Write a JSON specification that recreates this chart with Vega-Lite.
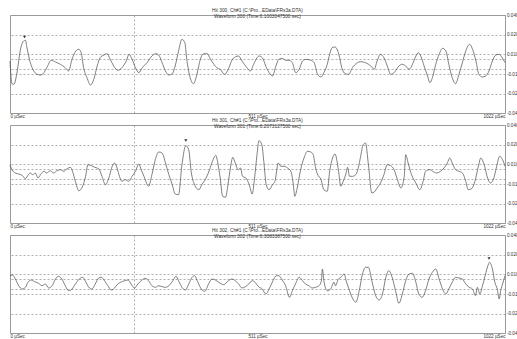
{
  "$schema": "https://vega.github.io/schema/vega-lite/v6.json",
  "padding": {"left": 8, "top": 7, "right": 0, "bottom": 0},
  "background": "white",
  "bounds": "flush",
  "spacing": 12,
  "config": {
    "font": "Liberation Sans",
    "view": {"stroke": "#9a9a9a", "strokeWidth": 1},
    "title": {"fontSize": 4.8, "subtitleFontSize": 4.8, "fontWeight": "normal", "font": "Liberation Sans", "subtitleFont": "Liberation Sans", "color": "#333", "subtitleColor": "#333", "anchor": "middle", "offset": -7, "subtitlePadding": 1.5},
    "axis": {"labelFont": "Liberation Sans", "labelFontSize": 4.6, "labelColor": "#333", "ticks": false, "title": null, "labelOverlap": false, "gridColor": "#8c8c8c", "gridDash": [2, 2], "gridWidth": 0.7}
  },
  "datasets": {
    "peaks": [{"panel": 300, "t": 30, "v": 2.7}, {"panel": 301, "t": 363, "v": 3.35}, {"panel": 302, "t": 989, "v": 2.55}],
    "wave": [
      {"panel":300,"t":0,"v":0.3},{"panel":300,"t":4,"v":-1.97},{"panel":300,"t":8,"v":-2.03},{"panel":300,"t":15,"v":-0.7},{"panel":300,"t":21,"v":1.3},{"panel":300,"t":28,"v":2.3},{"panel":300,"t":32,"v":2.37},{"panel":300,"t":35,"v":1.63},{"panel":300,"t":42,"v":0.13},{"panel":300,"t":49,"v":-0.7},{"panel":300,"t":56,"v":-1.03},{"panel":300,"t":63,"v":-1.1},{"panel":300,"t":70,"v":-0.87},{"panel":300,"t":76,"v":-0.37},{"panel":300,"t":85,"v":0.37},{"panel":300,"t":94,"v":0.2},{"panel":300,"t":104,"v":-0.03},{"panel":300,"t":114,"v":-0.37},{"panel":300,"t":121,"v":-0.7},{"panel":300,"t":128,"v":0.47},{"panel":300,"t":136,"v":1.3},{"panel":300,"t":142,"v":1.47},{"panel":300,"t":147,"v":1.13},{"panel":300,"t":152,"v":-0.37},{"panel":300,"t":159,"v":-1.37},{"panel":300,"t":166,"v":-2.1},{"panel":300,"t":173,"v":-1.53},{"panel":300,"t":180,"v":-0.2},{"panel":300,"t":186,"v":0.63},{"panel":300,"t":194,"v":0.9},{"panel":300,"t":200,"v":1.03},{"panel":300,"t":207,"v":0.47},{"panel":300,"t":214,"v":-0.2},{"panel":300,"t":223,"v":-0.63},{"panel":300,"t":231,"v":-0.37},{"panel":300,"t":240,"v":0.3},{"panel":300,"t":246,"v":0.97},{"panel":300,"t":252,"v":0.47},{"panel":300,"t":259,"v":-0.37},{"panel":300,"t":266,"v":-0.87},{"panel":300,"t":273,"v":-0.37},{"panel":300,"t":283,"v":0.13},{"panel":300,"t":293,"v":0.8},{"panel":300,"t":301,"v":1.03},{"panel":300,"t":307,"v":0.9},{"panel":300,"t":314,"v":0.13},{"panel":300,"t":321,"v":-0.7},{"panel":300,"t":328,"v":-1.1},{"panel":300,"t":335,"v":-0.97},{"panel":300,"t":341,"v":-0.2},{"panel":300,"t":348,"v":1.3},{"panel":300,"t":355,"v":2.47},{"panel":300,"t":361,"v":2.13},{"panel":300,"t":365,"v":0.47},{"panel":300,"t":372,"v":-1.37},{"panel":300,"t":379,"v":-1.97},{"panel":300,"t":386,"v":-1.03},{"panel":300,"t":393,"v":0.47},{"panel":300,"t":400,"v":1.03},{"panel":300,"t":407,"v":1.03},{"panel":300,"t":414,"v":0.47},{"panel":300,"t":421,"v":-0.03},{"panel":300,"t":427,"v":-0.37},{"panel":300,"t":434,"v":-0.53},{"panel":300,"t":443,"v":-1.03},{"panel":300,"t":452,"v":-0.37},{"panel":300,"t":458,"v":0.37},{"panel":300,"t":465,"v":0.7},{"panel":300,"t":472,"v":0.8},{"panel":300,"t":479,"v":0.3},{"panel":300,"t":489,"v":-0.37},{"panel":300,"t":496,"v":-0.7},{"panel":300,"t":503,"v":-0.03},{"panel":300,"t":510,"v":0.63},{"panel":300,"t":514,"v":0.8},{"panel":300,"t":521,"v":0.63},{"panel":300,"t":528,"v":-0.2},{"panel":300,"t":535,"v":-0.87},{"panel":300,"t":542,"v":-1.2},{"panel":300,"t":549,"v":-0.2},{"panel":300,"t":555,"v":0.47},{"panel":300,"t":562,"v":0.57},{"panel":300,"t":569,"v":0.37},{"panel":300,"t":576,"v":0.37},{"panel":300,"t":583,"v":0.13},{"panel":300,"t":590,"v":-0.87},{"panel":300,"t":597,"v":-0.53},{"panel":300,"t":604,"v":0.3},{"panel":300,"t":611,"v":0.47},{"panel":300,"t":621,"v":0.37},{"panel":300,"t":628,"v":0.13},{"panel":300,"t":635,"v":-1.03},{"panel":300,"t":642,"v":-1.3},{"panel":300,"t":648,"v":-0.87},{"panel":300,"t":655,"v":-0.03},{"panel":300,"t":660,"v":0.97},{"panel":300,"t":665,"v":1.63},{"panel":300,"t":671,"v":1.7},{"panel":300,"t":679,"v":0.97},{"panel":300,"t":685,"v":-0.37},{"panel":300,"t":692,"v":-0.97},{"panel":300,"t":699,"v":-1.03},{"panel":300,"t":707,"v":-0.37},{"panel":300,"t":717,"v":0.13},{"panel":300,"t":724,"v":0.23},{"panel":300,"t":734,"v":0.13},{"panel":300,"t":745,"v":-0.2},{"panel":300,"t":752,"v":-0.53},{"panel":300,"t":758,"v":0.3},{"panel":300,"t":765,"v":0.97},{"panel":300,"t":772,"v":0.63},{"panel":300,"t":779,"v":-0.2},{"panel":300,"t":786,"v":-1.03},{"panel":300,"t":793,"v":-0.87},{"panel":300,"t":803,"v":-0.2},{"panel":300,"t":810,"v":-0.03},{"panel":300,"t":817,"v":-0.2},{"panel":300,"t":824,"v":-0.53},{"panel":300,"t":831,"v":-0.03},{"panel":300,"t":838,"v":0.8},{"panel":300,"t":843,"v":1.13},{"panel":300,"t":848,"v":0.8},{"panel":300,"t":855,"v":-0.2},{"panel":300,"t":862,"v":-1.2},{"panel":300,"t":867,"v":-1.87},{"panel":300,"t":872,"v":-1.37},{"panel":300,"t":879,"v":-0.03},{"panel":300,"t":886,"v":0.97},{"panel":300,"t":893,"v":1.57},{"panel":300,"t":900,"v":1.3},{"panel":300,"t":906,"v":-0.03},{"panel":300,"t":913,"v":-1.37},{"panel":300,"t":920,"v":-1.97},{"panel":300,"t":927,"v":-1.03},{"panel":300,"t":934,"v":0.13},{"panel":300,"t":941,"v":1.3},{"panel":300,"t":949,"v":1.97},{"panel":300,"t":955,"v":1.47},{"panel":300,"t":962,"v":0.3},{"panel":300,"t":968,"v":-1.03},{"panel":300,"t":975,"v":-1.3},{"panel":300,"t":982,"v":-1.2},{"panel":300,"t":989,"v":-0.7},{"panel":300,"t":996,"v":0.3},{"panel":300,"t":1003,"v":0.9},{"panel":300,"t":1010,"v":0.97},{"panel":300,"t":1016,"v":0.63},{"panel":300,"t":1022,"v":0.13},
      {"panel":301,"t":0,"v":0.93},{"panel":301,"t":4,"v":0.43},{"panel":301,"t":11,"v":0.1},{"panel":301,"t":18,"v":0},{"panel":301,"t":25,"v":-0.13},{"panel":301,"t":32,"v":-0.47},{"panel":301,"t":37,"v":-0.13},{"panel":301,"t":42,"v":0.1},{"panel":301,"t":47,"v":-0.07},{"panel":301,"t":52,"v":0.1},{"panel":301,"t":58,"v":-0.4},{"panel":301,"t":63,"v":-0.07},{"panel":301,"t":70,"v":0.27},{"panel":301,"t":76,"v":0.1},{"panel":301,"t":83,"v":0.33},{"panel":301,"t":90,"v":0.1},{"panel":301,"t":97,"v":0.33},{"panel":301,"t":104,"v":0.43},{"panel":301,"t":111,"v":0.27},{"panel":301,"t":118,"v":0.53},{"panel":301,"t":125,"v":0.67},{"panel":301,"t":129,"v":0.27},{"panel":301,"t":135,"v":-0.73},{"panel":301,"t":142,"v":-1.67},{"panel":301,"t":149,"v":-1.33},{"panel":301,"t":156,"v":-0.23},{"panel":301,"t":161,"v":0.93},{"panel":301,"t":168,"v":0.83},{"panel":301,"t":175,"v":0.67},{"panel":301,"t":183,"v":0.53},{"panel":301,"t":190,"v":-0.23},{"panel":301,"t":197,"v":-1.07},{"panel":301,"t":204,"v":-0.4},{"panel":301,"t":211,"v":0.77},{"panel":301,"t":216,"v":1.1},{"panel":301,"t":221,"v":0.6},{"panel":301,"t":226,"v":-0.23},{"panel":301,"t":231,"v":-0.73},{"panel":301,"t":238,"v":-0.57},{"panel":301,"t":245,"v":-0.73},{"panel":301,"t":252,"v":-0.23},{"panel":301,"t":259,"v":0.27},{"panel":301,"t":266,"v":1.0},{"panel":301,"t":271,"v":0.43},{"panel":301,"t":278,"v":-0.4},{"panel":301,"t":286,"v":-1.23},{"panel":301,"t":293,"v":-0.07},{"panel":301,"t":300,"v":1.43},{"panel":301,"t":307,"v":2.2},{"panel":301,"t":314,"v":2.1},{"panel":301,"t":321,"v":1.1},{"panel":301,"t":328,"v":-0.07},{"panel":301,"t":335,"v":-1.07},{"panel":301,"t":341,"v":-2.0},{"panel":301,"t":348,"v":-2.07},{"panel":301,"t":355,"v":0.93},{"panel":301,"t":363,"v":2.83},{"panel":301,"t":369,"v":2.43},{"panel":301,"t":374,"v":0.27},{"panel":301,"t":381,"v":-1.07},{"panel":301,"t":390,"v":-1.57},{"panel":301,"t":396,"v":-1.07},{"panel":301,"t":405,"v":-0.4},{"panel":301,"t":412,"v":0.43},{"panel":301,"t":418,"v":1.27},{"panel":301,"t":425,"v":1.87},{"panel":301,"t":429,"v":1.1},{"panel":301,"t":434,"v":-0.4},{"panel":301,"t":439,"v":-2.23},{"panel":301,"t":445,"v":-2.33},{"panel":301,"t":450,"v":-1.07},{"panel":301,"t":455,"v":0.6},{"panel":301,"t":460,"v":1.67},{"panel":301,"t":465,"v":1.1},{"panel":301,"t":471,"v":0.43},{"panel":301,"t":476,"v":0.6},{"panel":301,"t":480,"v":-0.23},{"panel":301,"t":487,"v":-0.4},{"panel":301,"t":494,"v":-1.07},{"panel":301,"t":500,"v":-2.0},{"panel":301,"t":505,"v":-0.4},{"panel":301,"t":510,"v":1.93},{"panel":301,"t":514,"v":3.33},{"panel":301,"t":520,"v":2.93},{"panel":301,"t":524,"v":1.27},{"panel":301,"t":529,"v":-1.07},{"panel":301,"t":535,"v":-1.57},{"panel":301,"t":542,"v":-1.07},{"panel":301,"t":547,"v":-0.73},{"panel":301,"t":554,"v":1.1},{"panel":301,"t":559,"v":0.77},{"panel":301,"t":566,"v":0.77},{"panel":301,"t":573,"v":0.6},{"panel":301,"t":580,"v":0.27},{"panel":301,"t":585,"v":-1.07},{"panel":301,"t":588,"v":-2.23},{"panel":301,"t":593,"v":-1.4},{"panel":301,"t":600,"v":0.43},{"panel":301,"t":607,"v":1.6},{"panel":301,"t":614,"v":2.27},{"panel":301,"t":621,"v":2.2},{"panel":301,"t":626,"v":1.93},{"panel":301,"t":631,"v":0.6},{"panel":301,"t":637,"v":-0.23},{"panel":301,"t":641,"v":-0.4},{"panel":301,"t":648,"v":-1.57},{"panel":301,"t":655,"v":-1.73},{"panel":301,"t":660,"v":0.27},{"panel":301,"t":666,"v":1.6},{"panel":301,"t":671,"v":2.0},{"panel":301,"t":678,"v":0.43},{"panel":301,"t":683,"v":-1.23},{"panel":301,"t":688,"v":-0.73},{"panel":301,"t":693,"v":-0.07},{"panel":301,"t":697,"v":0.67},{"panel":301,"t":701,"v":-0.23},{"panel":301,"t":707,"v":-0.23},{"panel":301,"t":714,"v":-0.07},{"panel":301,"t":719,"v":0.6},{"panel":301,"t":724,"v":1.77},{"panel":301,"t":729,"v":2.93},{"panel":301,"t":734,"v":3.1},{"panel":301,"t":740,"v":0.93},{"panel":301,"t":747,"v":-1.9},{"panel":301,"t":752,"v":-1.8},{"panel":301,"t":758,"v":-1.4},{"panel":301,"t":765,"v":-0.9},{"panel":301,"t":772,"v":-0.07},{"panel":301,"t":779,"v":0.93},{"panel":301,"t":786,"v":0.83},{"panel":301,"t":793,"v":0.43},{"panel":301,"t":800,"v":-0.57},{"panel":301,"t":807,"v":-1.4},{"panel":301,"t":814,"v":-0.23},{"panel":301,"t":817,"v":1.93},{"panel":301,"t":822,"v":1.1},{"panel":301,"t":829,"v":-0.07},{"panel":301,"t":838,"v":-0.9},{"panel":301,"t":846,"v":-1.57},{"panel":301,"t":853,"v":-0.73},{"panel":301,"t":858,"v":0.27},{"panel":301,"t":867,"v":0.43},{"panel":301,"t":873,"v":0.27},{"panel":301,"t":880,"v":0.1},{"panel":301,"t":889,"v":0.27},{"panel":301,"t":896,"v":0.6},{"panel":301,"t":903,"v":1.1},{"panel":301,"t":908,"v":1.6},{"panel":301,"t":913,"v":1.1},{"panel":301,"t":920,"v":0.43},{"panel":301,"t":927,"v":0.27},{"panel":301,"t":934,"v":0.1},{"panel":301,"t":941,"v":-0.73},{"panel":301,"t":946,"v":-1.57},{"panel":301,"t":953,"v":-1.47},{"panel":301,"t":960,"v":-0.73},{"panel":301,"t":967,"v":0.77},{"panel":301,"t":972,"v":1.6},{"panel":301,"t":979,"v":0.93},{"panel":301,"t":986,"v":-0.4},{"panel":301,"t":992,"v":-0.9},{"panel":301,"t":999,"v":-0.4},{"panel":301,"t":1004,"v":0.6},{"panel":301,"t":1011,"v":1.77},{"panel":301,"t":1017,"v":1.43},{"panel":301,"t":1022,"v":0.77},
      {"panel":302,"t":0,"v":0.83},{"panel":302,"t":5,"v":0.9},{"panel":302,"t":11,"v":0.5},{"panel":302,"t":18,"v":-0.17},{"panel":302,"t":25,"v":-0.5},{"panel":302,"t":32,"v":-0.33},{"panel":302,"t":37,"v":0.17},{"panel":302,"t":44,"v":0.4},{"panel":302,"t":51,"v":0.23},{"panel":302,"t":59,"v":0.07},{"panel":302,"t":66,"v":-0.17},{"panel":302,"t":73,"v":0},{"panel":302,"t":80,"v":-0.4},{"panel":302,"t":87,"v":-0.17},{"panel":302,"t":94,"v":0.5},{"panel":302,"t":100,"v":0.77},{"panel":302,"t":107,"v":0.5},{"panel":302,"t":114,"v":-0.17},{"panel":302,"t":121,"v":-0.67},{"panel":302,"t":128,"v":-0.5},{"panel":302,"t":135,"v":0},{"panel":302,"t":143,"v":0.5},{"panel":302,"t":150,"v":0.67},{"panel":302,"t":155,"v":0.33},{"panel":302,"t":164,"v":-0.4},{"panel":302,"t":169,"v":-0.5},{"panel":302,"t":176,"v":0},{"panel":302,"t":183,"v":0.6},{"panel":302,"t":189,"v":0.67},{"panel":302,"t":195,"v":0.33},{"panel":302,"t":202,"v":-0.17},{"panel":302,"t":209,"v":-0.6},{"panel":302,"t":216,"v":-0.4},{"panel":302,"t":221,"v":-0.07},{"panel":302,"t":228,"v":0.17},{"panel":302,"t":237,"v":0.33},{"panel":302,"t":244,"v":0.4},{"panel":302,"t":250,"v":0},{"panel":302,"t":257,"v":-0.4},{"panel":302,"t":264,"v":0},{"panel":302,"t":271,"v":0.33},{"panel":302,"t":279,"v":0.57},{"panel":302,"t":286,"v":0.33},{"panel":302,"t":293,"v":-0.17},{"panel":302,"t":300,"v":-0.33},{"panel":302,"t":307,"v":-0.17},{"panel":302,"t":314,"v":-0.27},{"panel":302,"t":321,"v":-0.33},{"panel":302,"t":328,"v":-0.17},{"panel":302,"t":334,"v":0.17},{"panel":302,"t":343,"v":0.77},{"panel":302,"t":348,"v":0.33},{"panel":302,"t":355,"v":-0.33},{"panel":302,"t":362,"v":-0.6},{"panel":302,"t":369,"v":0},{"panel":302,"t":376,"v":0.67},{"panel":302,"t":381,"v":0.83},{"panel":302,"t":388,"v":0.17},{"panel":302,"t":395,"v":-0.5},{"panel":302,"t":402,"v":-0.73},{"panel":302,"t":410,"v":0},{"panel":302,"t":417,"v":0.5},{"panel":302,"t":424,"v":0.4},{"panel":302,"t":431,"v":0.17},{"panel":302,"t":441,"v":-0.07},{"panel":302,"t":451,"v":0.33},{"panel":302,"t":458,"v":0.5},{"panel":302,"t":465,"v":0.33},{"panel":302,"t":472,"v":0},{"panel":302,"t":479,"v":-0.4},{"panel":302,"t":486,"v":-0.27},{"panel":302,"t":493,"v":0},{"panel":302,"t":500,"v":0.33},{"panel":302,"t":506,"v":0.17},{"panel":302,"t":513,"v":-0.27},{"panel":302,"t":521,"v":-0.5},{"panel":302,"t":528,"v":-1.0},{"panel":302,"t":535,"v":-0.5},{"panel":302,"t":543,"v":0.33},{"panel":302,"t":550,"v":0.83},{"panel":302,"t":555,"v":0.83},{"panel":302,"t":562,"v":0.4},{"panel":302,"t":569,"v":-0.17},{"panel":302,"t":577,"v":-1.33},{"panel":302,"t":583,"v":-0.67},{"panel":302,"t":590,"v":0.07},{"panel":302,"t":597,"v":0.67},{"panel":302,"t":604,"v":0.33},{"panel":302,"t":610,"v":0},{"panel":302,"t":617,"v":-0.17},{"panel":302,"t":624,"v":-0.4},{"panel":302,"t":631,"v":-0.33},{"panel":302,"t":638,"v":-0.17},{"panel":302,"t":643,"v":0.33},{"panel":302,"t":645,"v":1.5},{"panel":302,"t":648,"v":0.33},{"panel":302,"t":655,"v":-0.67},{"panel":302,"t":662,"v":-0.5},{"panel":302,"t":669,"v":0.17},{"panel":302,"t":672,"v":-0.17},{"panel":302,"t":678,"v":0.5},{"panel":302,"t":683,"v":0.67},{"panel":302,"t":690,"v":1.0},{"panel":302,"t":694,"v":0.33},{"panel":302,"t":701,"v":-0.67},{"panel":302,"t":708,"v":-1.5},{"panel":302,"t":714,"v":-1.83},{"panel":302,"t":721,"v":-0.67},{"panel":302,"t":727,"v":0.83},{"panel":302,"t":734,"v":1.67},{"panel":302,"t":740,"v":1.67},{"panel":302,"t":747,"v":0.33},{"panel":302,"t":755,"v":-1.17},{"panel":302,"t":762,"v":-1.6},{"panel":302,"t":769,"v":-1.0},{"panel":302,"t":776,"v":0.67},{"panel":302,"t":782,"v":1.33},{"panel":302,"t":789,"v":0.67},{"panel":302,"t":796,"v":-0.67},{"panel":302,"t":803,"v":-1.93},{"panel":302,"t":810,"v":-1.0},{"panel":302,"t":817,"v":0.33},{"panel":302,"t":824,"v":1.0},{"panel":302,"t":831,"v":1.07},{"panel":302,"t":838,"v":0.17},{"panel":302,"t":844,"v":-1.0},{"panel":302,"t":851,"v":-1.33},{"panel":302,"t":858,"v":-0.67},{"panel":302,"t":865,"v":0.5},{"panel":302,"t":872,"v":1.17},{"panel":302,"t":879,"v":1.5},{"panel":302,"t":886,"v":0.5},{"panel":302,"t":893,"v":-0.5},{"panel":302,"t":900,"v":-1.0},{"panel":302,"t":906,"v":-0.5},{"panel":302,"t":913,"v":0.17},{"panel":302,"t":920,"v":0.67},{"panel":302,"t":927,"v":0.6},{"panel":302,"t":934,"v":0.5},{"panel":302,"t":941,"v":0},{"panel":302,"t":948,"v":-0.33},{"panel":302,"t":955,"v":-0.5},{"panel":302,"t":961,"v":-1.17},{"panel":302,"t":965,"v":-0.33},{"panel":302,"t":970,"v":-1.0},{"panel":302,"t":975,"v":-0.27},{"panel":302,"t":981,"v":0.83},{"panel":302,"t":988,"v":2.0},{"panel":302,"t":990,"v":2.17},{"panel":302,"t":996,"v":1.5},{"panel":302,"t":1001,"v":0.17},{"panel":302,"t":1006,"v":-0.5},{"panel":302,"t":1010,"v":-1.5},{"panel":302,"t":1013,"v":-0.67},{"panel":302,"t":1017,"v":0},{"panel":302,"t":1022,"v":0.83}
    ]
  },
  "vconcat": [
    {
      "width": 495, "height": 98,
      "title": {"text": "Hit 300, Ch#1 (C:\\Pro...EData\\FRs3a.DTA)", "subtitle": "Waveform 300 (Time:6.1003047500 sec)"},
      "encoding": {
        "x": {"field": "t", "type": "quantitative", "scale": {"domain": [0, 1022], "nice": false, "zero": false},
          "axis": {"orient": "bottom", "values": [0, 256, 511, 1022], "labelExpr": "datum.value == 256 ? '' : datum.value + ' µSec'", "labelFlush": true, "labelPadding": 0.5, "domain": false, "grid": true, "gridOpacity": {"condition": {"test": "datum.value == 256", "value": 1}, "value": 0}}},
        "y": {"field": "v", "type": "quantitative", "scale": {"domain": [-4.9, 4.9], "nice": false, "zero": false},
          "axis": {"orient": "right", "values": [-4.9, -2.95, -1, -0.55, 0.55, 1, 2.95, 4.9], "labelExpr": "datum.value == 4.9 ? '0.040' : datum.value == 2.95 ? '0.020' : datum.value == 1 ? '0.010' : datum.value == -1 ? '-0.01' : datum.value == -2.95 ? '-0.02' : datum.value == -4.9 ? '-0.04' : ''", "labelPadding": 1.5, "domain": true, "domainColor": "#9a9a9a", "labelBaseline": "middle", "grid": true, "gridOpacity": {"condition": {"test": "abs(datum.value) > 4", "value": 0}, "value": 1}}}
      },
      "layer": [
        {"data": {"name": "wave"}, "transform": [{"filter": "datum.panel == 300"}], "mark": {"type": "line", "color": "#4a4a4a", "strokeWidth": 0.7, "interpolate": "monotone"}},
        {"data": {"name": "peaks"}, "transform": [{"filter": "datum.panel == 300"}], "mark": {"type": "point", "shape": "triangle-down", "filled": true, "color": "#333", "size": 10, "opacity": 1}}
      ]
    },
    {
      "width": 495, "height": 98,
      "title": {"text": "Hit 301, Ch#1 (C:\\Pro...EData\\FRs3a.DTA)", "subtitle": "Waveform 301 (Time:6.2073127500 sec)"},
      "encoding": {
        "x": {"field": "t", "type": "quantitative", "scale": {"domain": [0, 1022], "nice": false, "zero": false},
          "axis": {"orient": "bottom", "values": [0, 256, 511, 1022], "labelExpr": "datum.value == 256 ? '' : datum.value + ' µSec'", "labelFlush": true, "labelPadding": 0.5, "domain": false, "grid": true, "gridOpacity": {"condition": {"test": "datum.value == 256", "value": 1}, "value": 0}}},
        "y": {"field": "v", "type": "quantitative", "scale": {"domain": [-4.9, 4.9], "nice": false, "zero": false},
          "axis": {"orient": "right", "values": [-4.9, -2.95, -1, -0.55, 0.55, 1, 2.95, 4.9], "labelExpr": "datum.value == 4.9 ? '0.040' : datum.value == 2.95 ? '0.020' : datum.value == 1 ? '0.010' : datum.value == -1 ? '-0.01' : datum.value == -2.95 ? '-0.02' : datum.value == -4.9 ? '-0.04' : ''", "labelPadding": 1.5, "domain": true, "domainColor": "#9a9a9a", "labelBaseline": "middle", "grid": true, "gridOpacity": {"condition": {"test": "abs(datum.value) > 4", "value": 0}, "value": 1}}}
      },
      "layer": [
        {"data": {"name": "wave"}, "transform": [{"filter": "datum.panel == 301"}], "mark": {"type": "line", "color": "#4a4a4a", "strokeWidth": 0.7, "interpolate": "monotone"}},
        {"data": {"name": "peaks"}, "transform": [{"filter": "datum.panel == 301"}], "mark": {"type": "point", "shape": "triangle-down", "filled": true, "color": "#333", "size": 10, "opacity": 1}}
      ]
    },
    {
      "width": 495, "height": 98,
      "title": {"text": "Hit 302, Ch#1 (C:\\Pro...EData\\FRs3a.DTA)", "subtitle": "Waveform 302 (Time:6.3083387500 sec)"},
      "encoding": {
        "x": {"field": "t", "type": "quantitative", "scale": {"domain": [0, 1022], "nice": false, "zero": false},
          "axis": {"orient": "bottom", "values": [0, 256, 511, 1022], "labelExpr": "datum.value == 256 ? '' : datum.value + ' µSec'", "labelFlush": true, "labelPadding": 0.5, "domain": false, "grid": true, "gridOpacity": {"condition": {"test": "datum.value == 256", "value": 1}, "value": 0}}},
        "y": {"field": "v", "type": "quantitative", "scale": {"domain": [-4.9, 4.9], "nice": false, "zero": false},
          "axis": {"orient": "right", "values": [-4.9, -2.95, -1, -0.55, 0.55, 1, 2.95, 4.9], "labelExpr": "datum.value == 4.9 ? '0.040' : datum.value == 2.95 ? '0.020' : datum.value == 1 ? '0.010' : datum.value == -1 ? '-0.01' : datum.value == -2.95 ? '-0.02' : datum.value == -4.9 ? '-0.04' : ''", "labelPadding": 1.5, "domain": true, "domainColor": "#9a9a9a", "labelBaseline": "middle", "grid": true, "gridOpacity": {"condition": {"test": "abs(datum.value) > 4", "value": 0}, "value": 1}}}
      },
      "layer": [
        {"data": {"name": "wave"}, "transform": [{"filter": "datum.panel == 302"}], "mark": {"type": "line", "color": "#4a4a4a", "strokeWidth": 0.7, "interpolate": "monotone"}},
        {"data": {"name": "peaks"}, "transform": [{"filter": "datum.panel == 302"}], "mark": {"type": "point", "shape": "triangle-down", "filled": true, "color": "#333", "size": 10, "opacity": 1}}
      ]
    }
  ]
}
